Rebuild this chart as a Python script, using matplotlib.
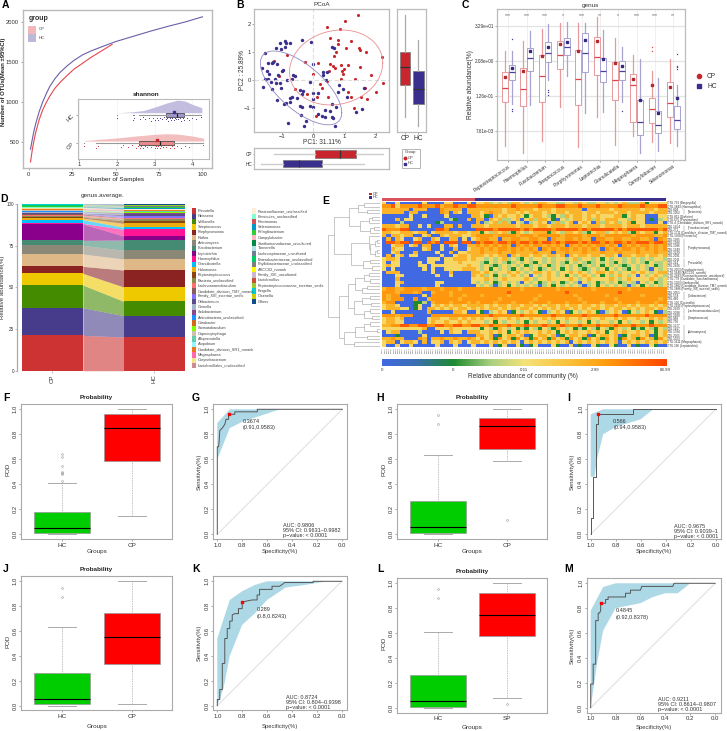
import numpy as np
import matplotlib
matplotlib.use('Agg')
import matplotlib.pyplot as plt
from matplotlib.patches import Rectangle
from matplotlib.colors import LinearSegmentedColormap
from matplotlib.lines import Line2D

plt.rcParams['font.family'] = ['Liberation Sans', 'DejaVu Sans']
W, H = 727, 731
fig = plt.figure(figsize=(W/100, H/100), dpi=100, facecolor='white')
RED, NAVY = '#C9252D', '#3A2F8C'
GR = '#AAAAAA'

# ---------- A ----------
a_hc_x = [1, 2, 3, 4, 6, 8, 10, 12, 15, 18, 22, 26, 31, 36, 42, 50, 60, 70, 80, 90, 100]
a_hc_y = [410, 530, 640, 730, 880, 1000, 1100, 1190, 1290, 1370, 1450, 1520, 1590, 1640, 1690, 1755, 1820, 1885, 1945, 2000, 2065]
a_cp_x = [1, 2, 3, 4, 6, 8, 10, 12, 15, 18, 22, 26, 31, 36, 42, 48]
a_cp_y = [250, 400, 520, 620, 780, 900, 990, 1070, 1170, 1245, 1330, 1410, 1485, 1560, 1640, 1720]
sh_hc_dx = [2.0, 2.4, 2.7, 3.0, 3.3, 3.6, 3.8, 4.0, 4.25]
sh_hc_dh = [.0, .03, .08, .2, .34, .45, .42, .3, .18]
sh_cp_dx = [1.15, 1.6, 2.0, 2.5, 3.0, 3.3, 3.6, 4.0, 4.3]
sh_cp_dh = [.02, .07, .11, .18, .24, .26, .25, .18, .10]
sh_hc_box = dict(whislo=2.59, q1=3.29, med=3.59, q3=3.79, whishi=4.23, fliers=[2.0, 2.43, 2.46])
sh_cp_box = dict(whislo=1.45, q1=2.59, med=3.13, q3=3.5, whishi=4.28, fliers=[1.13])
sh_hc_mean, sh_cp_mean = 3.5, 3.07
sh_hc_pts = [2.0, 2.43, 2.46, 2.6, 2.7, 2.75, 2.85, 2.9, 2.95, 3.0, 3.05, 3.1, 3.15, 3.2, 3.25, 3.3, 3.33, 3.36, 3.4, 3.43, 3.46, 3.5, 3.53, 3.56, 3.6, 3.63, 3.66, 3.7, 3.74, 3.78, 3.85, 3.9, 4.0, 4.1, 4.23]
sh_cp_pts = [1.13, 1.45, 1.5, 2.1, 2.15, 2.3, 2.4, 2.5, 2.55, 2.6, 2.65, 2.7, 2.75, 2.8, 2.85, 2.9, 2.95, 3.0, 3.03, 3.06, 3.1, 3.14, 3.18, 3.22, 3.26, 3.3, 3.35, 3.4, 3.45, 3.5, 3.6, 3.7, 3.8, 3.9, 4.28]
sh_off = [.03, -.06, .01, -.03, .06, -.01, .04, -.07, .02, -.04]

# ---------- B ----------
cp_pc1 = [1.44,1.03,.45,.86,.53,.80,1.20,1.06,1.46,1.48,1.70,2.19,.78,.72,.65,-.27,.16,.52,.64,.88,1.10,1.49,.98,.91,.94,.51,1.84,0,2.23,.89,1.34,.22,.27,1.65,1.12,1.99,1.54,1.72,1.31,.09,-1.09,-1.24,-.85,-.59,-.21,1.22,.11,.48,.43,.70]
cp_pc2 = [2.33,2.13,1.89,1.83,1.52,1.43,1.40,1.17,1.14,1.08,1.00,.83,1.29,1.00,.88,.65,.61,.58,.51,.55,.55,.49,.39,.32,.23,.35,.18,.23,-.10,.06,.04,-.13,-.29,-.26,-.43,-.42,-.58,-.65,-.98,-1.29,.17,.70,.90,-.32,-.50,-.58,-.58,-.58,-.02,.45]
hc_pc1 = [-1.54,-1.06,-.89,-.88,-.74,-.89,-1.04,-1.19,-.37,-.07,.59,.67,-1.28,-1.44,-1.65,-1.49,-1.40,-1.31,-1.17,-.96,-.99,-1.54,-1.44,-1.22,-1.12,-.64,-.59,-1.36,-1.20,-1.06,-1.03,-1.60,-1.33,-.85,-.67,-.11,.31,.43,0,-.32,-.43,-.37,-.69,-.53,-.74,-1.17,-.93,-.88,-.74,-.43,-.37,-.11,-.02,0,-.02,.14,.37,.59,.53,.16,.27,.39,.59,.62,-.22,-.39,-.80,-.29,.71,.74,.82,.96,.80,1.09,1.63,1.38,1.56,.32,.41]
hc_pc2 = [.99,1.32,1.39,1.32,1.35,1.20,1.12,1.15,1.46,1.36,1.20,1.14,.67,.61,.43,.35,.21,.61,.58,.37,.35,.05,.04,.05,.19,.19,.15,-.07,-.08,-.11,-.29,-.23,-.32,.01,.04,-.05,.31,.31,.58,-.37,-.35,-.49,-.58,-.64,-.62,-.70,-.85,-.82,-.76,-.92,-.94,-.92,-.96,-.67,-.46,-.46,-1.06,-.85,-1.10,-1.20,-1.27,-1.32,-1.30,-1.36,-1.44,-1.24,-1.54,-1.63,-1.63,-.94,-.17,-.32,-.40,-.58,-.26,-1.12,-1.01,.19,.01]
ell_cp = dict(cx=.73, cy=.46, ax=1.49, ay=1.34, corr=.12)
ell_hc = dict(cx=-.39, cy=-.27, ax=1.30, ay=1.32, corr=-.67)
b_right = [dict(whislo=-1.30, q1=-.155, med=.49, q3=1.0, whishi=2.33, fliers=[]),
           dict(whislo=-1.65, q1=-.83, med=-.31, q3=.33, whishi=1.44, fliers=[])]
b_bottom = [dict(whislo=-1.27, q1=.05, med=.87, q3=1.36, whishi=2.23, fliers=[]),
            dict(whislo=-1.67, q1=-.98, med=-.45, q3=.29, whishi=1.63, fliers=[])]

# ---------- C (values are log10 of % abundance) ----------
genera = ['Peptostreptococcus','Haemophilus','Fusobacterium','Streptococcus','Porphyromonas','Leptotrichia','Granulicatella','Megasphaera','Campylobacter','Selenomonas']
c_stars = ['***','***','***','*','***','**','*','***','***','**']
c_cp_hi  = [.66,1.0,1.40,1.61,1.61,1.84,1.09,.52,-.03,.37]
c_cp_q3  = [-.07,.07,.51,1.01,.68,1.13,.27,-.14,-.96,-.41]
c_cp_med = [-.63,-.65,-.20,.53,-.32,.45,-.35,-.53,-1.34,-1.13]
c_cp_q1  = [-1.12,-1.24,-1.11,.03,-1.21,-.19,-1.03,-1.81,-1.83,-1.61]
c_cp_lo  = [-2.62,-2.85,-2.45,-1.27,-2.64,-1.63,-2.57,-2.28,-2.48,-2.53]
c_cp_mean= [-.23,-.04,.49,.88,.64,1.01,.24,-.30,-.51,-.60]
c_cp_out = [[],[],[],[],[],[],[],[],[.80,.64],[]]
c_hc_hi  = [.64,1.35,1.59,1.64,1.61,1.36,.79,.37,-.28,-.51]
c_hc_q3  = [.17,.75,.97,1.09,1.27,.40,.31,-1.05,-1.41,-1.24]
c_hc_med = [-.07,.40,.60,.79,.59,-.03,-.03,-1.80,-1.89,-1.72]
c_hc_q1  = [-.36,-.04,.29,.51,-.07,-.43,-.35,-2.23,-2.17,-2.04]
c_hc_lo  = [-1.19,-1.21,-.34,-.22,-1.49,-1.46,-1.11,-2.85,-2.79,-2.62]
c_hc_mean= [.08,.64,.80,.97,1.03,.37,.15,-1.04,-1.47,-.96]
c_hc_out = [[1.06,-1.36,-1.43],[],[-.68,-.77,-.88],[],[],[],[-1.41],[],[],[.56,.15,.09,.03]]
c_ticks = [-2.1186, -.9, .318, 1.517]
c_ticklabels = ['7.61e-03','1.26e-01','2.08e+00','3.29e+01']

# ---------- D ----------
d_names = ['Prevotella','Neisseria','Veillonella','Streptococcus','Porphyromonas','Rothia','Actinomyces','Fusobacterium','Leptotrichia','Haemophilus','Granulicatella','Halomonas','Peptostreptococcus','Bacteria_unclassified','Lachnoanaerobaculum','Candidate_division_TM7_norank','Family_XIII_incertae_sedis','Oribacterium','Gemella','Solobacterium','Actinobacteria_unclassified','Citrobacter','Stomatobaculum','Capnocytophaga','Alloprevotella','Atopobium','Candidate_division_SR1_norank','Megasphaera','Corynebacterium','Lactobacillales_unclassified',
 'Pasteurellaceae_unclassified','Firmicutes_unclassified','Parvimonas','Selenomonas','Pelagibacterium','Campylobacter','Xanthomonadaceae_uncultured','Tannerella','Lachnospiraceae_uncultured','Enterobacteriaceae_unclassified','Phyllobacteriaceae_unclassified','ASCC02_norank','Family_XIII_uncultured','Lactobacillus','Peptostreptococcaceae_incertae_sedis','Kingella','Olsenella','Others']
d_cp = [21.2,16.6,13.6,7.0,4.2,7.4,5.2,3.0,9.8,.4,2.2,.9,.6,.5,.7,.8,.2,.2,.8,.2,.1,.1,.3,.4,.2,.1,.1,.4,.3,.2,.2,.2,.2,.2,.1,.2,.1,.1,.1,.1,.1,.1,.1,.1,.1,.1,.1,.2]
d_hc = [20.2,12.8,8.6,8.6,10.2,6.6,5.2,6.2,2.4,4.0,1.2,2.4,1.5,1.0,.6,.3,1.1,1.0,.2,.5,.2,.1,.2,.3,.3,.2,.3,.2,.1,.2,.2,.1,.2,.7,.1,.2,.1,.2,.1,.1,.1,.1,.1,.1,.1,.1,.1,.6]
d_cols = ['#CD3333','#473C8B','#458B00','#EEC900','#8B2323','#DEB887','#8B8878','#458B74','#8B008B','#FF1493','#00BFFF','#EEAD0E','#8B4513','#8B8B4D','#FF7070','#8B5A5A','#836FFF','#5B4B8A','#A2B5CD','#8B4789','#1E90FF','#D2691E','#7FFF00','#CDC0B0','#66CDAA','#98F5FF','#EE7621','#FF69B4','#F0E68C','#CD8C95',
 '#FFEFD5','#7FFFD4','#CD5555','#0099CC','#32CD32','#FFB6C1','#008B45','#B0E0E6','#708090','#00CD66','#7F7F7F','#FFFF00','#CDB5CD','#CD4F39','#9ACD32','#00CED1','#CDCD00','#104E8B']

# ---------- E (levels 0 blue .. 6 red-orange, CP part | HC part) ----------
e_rows = [
"300300000300003300030|3342323244323244332233243223323234222413333",
"556355556555645565566|5555555565555565556655565556555565555655566",
"444444044400054444044|4444443445444344434444440444443444444344344",
"444440440000054043044|4345443443434443434434443443444344344443444",
"000000300300003000004|4310434334313443213243443434333441343300033",
"000403300000000210040|4404342234034244310323443424344433243301023",
"000020000000120000000|4023424203202343024234034304243423413300030",
"444344003030004404004|4434444443444344344434443444344443444344444",
"655566000000665000000|6666566666565666656666656566666565666666656",
"443344434403444434434|4132434214323444143244342134423434214344134",
"404434400340043444334|5555455554555455555455554555455555545555445",
"040430034004300440303|4554404455445544054455454405544554455445054",
"066566066065606660660|6566566565665656656566656566565665656665665",
"003440340440030430044|5454545405454554545405454545545405454554545",
"004330000340030040034|4545455454545405454554545454054545545454545",
"003400040000300403344|4544454454444544404454445444544454445444544",
"040340330000030034434|4434344043443443443404344344344304434434434",
"344300000033303344434|3323234232132332323323423323132332323232332",
"303300003033003334333|3213232123232132323213232123232132323213223",
"343300003303333333343|3232123232312323123232312323132321232323123",
"303000000303003333444|3231323213232312323132321232313232132320323",
"044400000003000400004|4343233434323443432334343234434323343432344",
"000330000000300300004|3423132343230323432313234323132343230323432",
"000400000000000000003|3343234333343233433334323433334323433334323",
"000340000000330000003|2323123232032312323123203231232312320323123",
"000300000000300000000|3232023132323202313232320231323232023132323",
"455445555455545554555|5555555555455555554555555545555555455555555",
"555455545004555455555|5555555655555555555565555555555565555555555",
"545500000305555455455|5455555455555545555555455555545555555455555",
"545550050045555554555|5555545555555455555555545555555455555555545",
"455000011204555455545|4555455545554555455545554555455545554555455",
"344300013003434344344|4434344344344343443434434434344344343443434",
"344433013044343434434|3434434343443434343443434344343443434344343",
"003000000040000044300|3102343013234310234301323431023430132343102",
"555455500005555555555|5556555555655555565555556555555655555565555",
"344340000034433443434|3433433434334334343343343433433434334334343",
"344330000034334334343|3323132332313233231323323132332313233231323",
"445566556655665566556|6556555655565556555655565556555655565556555",
"333333333400333433333|3132143231213213214323121321321432312132132",
"034400002000030433044|4334343134343343431343433434313434334343134",
"000100000300000000000|4434013443401344340134434013443401344340134",
"445440005404454454454|3534153415341534153415341534153415341534153",
"344034430403340434034|4343434343034343434340343434343403434343434",
"300300300000300030003|0003013003101300031003010031003100301003100",
]
e_row_labels = ['OTU.791 (Bergeyella)','OTU.1843 (Haemophilus)','OTU.804','OTU.1052','OTU.851 (Dialister)','OTU.675 (Parvimonas)','OTU.4 (Candidate_division_SR1_norank)','OTU.1454','OTU.271','OTU.1711 (Candidate_division_TM7_norank)','OTU.1368 (Prevotella)','OTU.1385','OTU.1380','OTU.1386','OTU.1349','OTU.2229','OTU.2031','OTU.2011','OTU.214','OTU.2426','OTU.2063 (Fusobacterium)','OTU.1640 (ASCC02_norank)','OTU.2483 (Ruminococcaceae_uncultured)','OTU.779 (Candidate_Saccharimonas)','OTU.1023 (Gardnerella)','OTU.1882 (Candidate_division_TM7_norank)','OTU.1886 (Family_XIII_incertae_sedis)','OTU.2051','OTU.558','OTU.460','OTU.120 (Catonella)','OTU.2191 (Peptostreptococcus)','OTU.2429','OTU.2038','OTU.2289','OTU.868','OTU.730','OTU.1277','OTU.1417','OTU.1784','OTU.2065','OTU.1003','OTU.1611 (Megasphaera)','OTU.196 (Leptotrichia)']
e_groups = [(2,3,'(Neisseria)'),(7,8,'(Fusobacterium)'),(11,16,'(Porphyromonas)'),(17,19,'(Prevotella)'),(27,29,'(Oribacterium)'),(32,33,'(Lachnoanaerobaculum)'),(34,35,'(Streptococcus)'),(37,41,'(Actinomyces)')]
e_cbar_labels = ['0','0','0.11','2.99','83.99']
e_tree = (1.0,
  (.89,
    (.60,(.42,(.30,0,1),(.25,2,3)),(.38,(.22,(.15,4,5),6),(.2,(.12,7,8),9))),
    (.55,(.22,10,(.2,(.1,(.05,11,12),13),(.1,(.05,14,15),16))),(.32,(.2,17,18),(.15,19,20)))),
  (.78,
    (.62,(.48,(.3,(.22,21,22),(.2,23,24)),(.35,(.25,25,26),27)),(.5,(.35,(.2,28,29),(.18,30,31)),(.3,(.2,32,33),(.15,34,35)))),
    (.7,(.48,(.3,(.2,36,37),(.05,38,39)),(.25,40,41)),(.5,42,43))))

# ---------- F-M ----------
f_box = [dict(whislo=0,q1=.01,med=.05,q3=.175,whishi=.41,fliers=[.43,.48,.49,.50,.55,.62,.645]),
         dict(whislo=.15,q1=.59,med=.85,q3=.96,whishi=1.0,fliers=[])]
h_box = [dict(whislo=0,q1=.01,med=.055,q3=.265,whishi=.635,fliers=[.885,.955]),
         dict(whislo=.59,q1=.685,med=.865,q3=.93,whishi=1.0,fliers=[.115])]
j_box = [dict(whislo=0,q1=.01,med=.055,q3=.26,whishi=.63,fliers=[.875,.95]),
         dict(whislo=.01,q1=.335,med=.55,q3=.745,whishi=1.0,fliers=[])]
l_box = [dict(whislo=0,q1=.005,med=.055,q3=.26,whishi=.605,fliers=[.88,.955]),
         dict(whislo=.08,q1=.58,med=.745,q3=.92,whishi=1.0,fliers=[.03])]

g_spec = [1,1,.99,.985,.98,.96,.94,.93,.91,.91,.86,.86,.68,.68,0]
g_sens = [0,.70,.70,.75,.83,.85,.88,.92,.92,.96,.96,.98,.98,1,1]
g_up = ([1,.9,.5,0],[.89,1,1,1])
g_lo = ([1,.9,.8,.65,.5,0],[.6,.85,.9,.95,1,1])
i_spec = [1,1,.985,.985,.96,.96,.94,.94,.66,.66,0]
i_sens = [0,.13,.13,.46,.46,.88,.88,.96,.96,1,1]
i_up = ([1,.9,.5,0],[.96,1,1,1])
i_lo = ([1,.97,.95,.9,.8,.6,.5,0],[.46,.46,.6,.8,.86,.92,1,1])
k_spec = [1,1,.98,.98,.96,.96,.94,.94,.92,.92,.9,.9,.88,.88,.86,.83,.83,.8,.8,.77,.72,.68,.68,.66,.66,.56,.56,.5,.47,.46,.23,.23,0]
k_sens = [0,.05,.05,.13,.13,.34,.34,.54,.54,.62,.62,.68,.68,.73,.74,.74,.78,.78,.83,.84,.85,.85,.89,.89,.935,.935,.96,.96,.98,.99,.99,1,1]
k_up = ([1,.9,.8,.7,.6,0],[.54,.85,.92,.97,1,1])
k_lo = ([1,.95,.9,.8,.7,.6,.45,.3,.12,0],[0,.14,.4,.65,.74,.85,.95,.97,1,1])
m_spec = [1,1,.98,.98,.96,.96,.94,.94,.93,.92,.92,.88,.88,.86,.86,.72,.72,.68,.68,.6,.59,.34,.33,0]
m_sens = [0,.19,.19,.35,.35,.70,.70,.76,.76,.78,.84,.84,.87,.87,.89,.89,.92,.92,.945,.945,.975,.975,1,1]
m_up = ([1,.9,.8,0],[.78,.97,1,1])
m_lo = ([1,.95,.9,.8,.7,.6,.5,.4,.3,.2,0],[0,.35,.62,.8,.82,.84,.89,.92,.92,1,1])


def axpx(l, t, r, b, **k):
    return fig.add_axes([l/W, 1-b/H, (r-l)/W, (b-t)/H], **k)

def T(x, y, s, size=4.5, ha='center', va='center', **k):
    return fig.text(x/W, 1-y/H, s, fontsize=size, ha=ha, va=va, **k)

def R(x0, y0, x1, y1, **k):
    fig.add_artist(Rectangle((x0/W, 1-y1/H), (x1-x0)/W, (y1-y0)/H, transform=fig.transFigure, **k))

def frame(ax, c=GR, lw=.8):
    for s in ax.spines.values():
        s.set_color(c); s.set_linewidth(lw)
    ax.tick_params(length=1.6, width=.4, color='#666666', labelsize=4.2, pad=1, labelcolor='#333333')

def color_box(art, face, edge, med, wcol, wlw=.6, mlw=.9):
    for b in art['boxes']:
        b.set_facecolor(face); b.set_edgecolor(edge); b.set_linewidth(.5)
    for m in art['medians']:
        m.set_color(med); m.set_linewidth(mlw)
    for w in art['whiskers'] + art['caps']:
        w.set_color(wcol); w.set_linewidth(wlw)

for l, x, y in [('A',5,5),('B',240,5),('C',465,5),('D',4,199),('E',326,201),('F',6,398),('G',196,398),('H',380,398),('I',569,398),('J',6,569),('K',196,569),('L',380,569),('M',569,569)]:
    T(x, y, l, size=7.5, fontweight='bold')

# A
ax = axpx(22.7, 10, 212, 168)
frame(ax, '#BBBBBB', 1.0)
ax.plot(a_hc_x, a_hc_y, color='#6A5FA8', lw=.8)
ax.plot(a_cp_x, a_cp_y, color='#E5474D', lw=.8)
ax.set_xlim(-3.5, 105.5); ax.set_ylim(175, 2150)
ax.set_xticks([0, 25, 50, 75, 100]); ax.set_yticks([500, 1000, 1500, 2000])
T(116, 179, 'Number of Samples', 4.6, color='#222222')
T(4, 82, 'Number of OTUs(Mean ±95%CI)', 4.2, rotation=90, fontweight='bold', color='#222222')
T(39, 19, 'group', 5, fontweight='bold', color='#333333', ha='center')
R(28, 25.5, 36, 33.5, color='#F2B7B7', lw=0)
R(28, 34, 36, 42, color='#BDB7DC', lw=0)
T(39, 29, 'CP', 3.2, ha='left', color='#444444'); T(39, 38, 'HC', 3.2, ha='left', color='#444444')

ins = axpx(78, 99, 209, 159, zorder=3)
frame(ins, '#BBBBBB', .8)
ins.set_xlim(.97, 4.44); ins.set_ylim(.43, 2.57)
ins.xaxis.grid(True, color='#EEEEEE', lw=.4); ins.set_axisbelow(True)
ins.fill_between(sh_hc_dx, 2.08, 2.08+np.array(sh_hc_dh), color='#BDB7DC', lw=0, alpha=.9)
ins.fill_between(sh_cp_dx, 1.07, 1.07+np.array(sh_cp_dh), color='#F2B7B7', lw=0, alpha=.9)
for st, p, fc, c, mean, pts, off in [(sh_cp_box,1,'#E98A8A',RED,sh_cp_mean,sh_cp_pts,-.12),(sh_hc_box,2,'#9F97CC',NAVY,sh_hc_mean,sh_hc_pts,-.13)]:
    art = ins.bxp([st], positions=[p], widths=[.14], orientation='horizontal', patch_artist=True, manage_ticks=False,
                  flierprops=dict(marker='s', ms=.7, mfc='#777777', mec='none'))
    color_box(art, fc, '#333333', '#222222', '#999999', wlw=.8)
    for cp in art['caps']:
        cp.set_visible(False)
    ins.plot([mean], [p+.1], 's', ms=1.6, color=c)
    ins.scatter(pts, [p+off+sh_off[i % 10] for i in range(len(pts))], s=.6, color=c, lw=0)
ins.set_yticks([1, 2]); ins.set_yticklabels(['CP', 'HC'], rotation=45, fontsize=4.6)
ins.set_xticks([1, 2, 3, 4])
ins.tick_params(labelsize=4.2, pad=.8)
T(146, 95, 'shannon', 4.6, fontweight='bold', color='#222222')

# B
ax = axpx(254.3, 9.3, 389.3, 131.7)
frame(ax, '#BBBBBB', .9)
ax.axhline(0, color='#DDDDDD', lw=.8, ls=(0, (4, 2))); ax.axvline(0, color='#DDDDDD', lw=.8, ls=(0, (4, 2)))
t = np.linspace(0, 2*np.pi, 200)
for e, c in [(ell_cp, '#E88E92'), (ell_hc, '#8F88C2')]:
    phi = np.arccos(e['corr'])
    ax.plot(e['cx']+e['ax']*np.cos(t), e['cy']+e['ay']*np.cos(t+phi), color=c, lw=.6)
ax.scatter(cp_pc1, cp_pc2, s=5, color=RED, lw=0)
ax.scatter(hc_pc1, hc_pc2, s=6, color=NAVY, lw=0)
ax.set_xlim(-1.885, 2.43); ax.set_ylim(-1.836, 2.54)
ax.set_xticks([-1, 0, 1, 2]); ax.set_xticklabels(['\u22121', '0', '1', '2']); ax.set_yticks([-1, 0, 1, 2]); ax.set_yticklabels(['\u22121', '0', '1', '2'])
ax.tick_params(axis='x', pad=.3, length=1.2)
T(322, 4, 'PCoA', 4.6, color='#333333')
T(322, 142.5, 'PC1: 31.11%', 4.7, color='#333333')
T(243, 70, 'PC2 : 25.89%', 4.7, rotation=90, color='#333333')
ax = axpx(397.3, 9.3, 426, 131.7)
frame(ax, '#BBBBBB', .9)
art = ax.bxp(b_right, positions=[1, 2], widths=.76, patch_artist=True, showcaps=False, manage_ticks=False)
color_box(art, RED, '#777777', '#333333', '#AAAAAA', wlw=.9)
art['boxes'][1].set_facecolor(NAVY)
ax.set_xlim(.45, 2.55); ax.set_ylim(-1.836, 2.54)
ax.set_xticks([1, 2]); ax.set_xticklabels(['CP', 'HC'], fontsize=4.8); ax.set_yticks([])
ax = axpx(254.3, 148.3, 389.3, 169.3)
frame(ax, '#BBBBBB', .9)
art = ax.bxp(b_bottom, positions=[2, 1], widths=.76, orientation='horizontal', patch_artist=True, showcaps=False, manage_ticks=False)
color_box(art, RED, '#777777', '#333333', '#CCCCCC', wlw=1.0)
art['boxes'][1].set_facecolor(NAVY)
ax.set_xlim(-1.885, 2.43); ax.set_ylim(.4, 2.6)
ax.set_xticks([]); ax.set_yticks([1, 2]); ax.set_yticklabels(['HC', 'CP'], fontsize=3.4)
ax.tick_params(length=1, pad=.6)
R(401.7, 149, 420, 168.3, fc='white', ec='#AAAAAA', lw=.6)
T(410.8, 152.5, 'Group', 3.0, color='#333333')
fig.add_artist(Line2D([405/W], [1-158/H], marker='o', ms=1.8, color=RED, lw=0))
fig.add_artist(Line2D([405/W], [1-163.5/H], marker='s', ms=1.8, color=NAVY, lw=0))
T(408, 158, 'CP', 3.0, ha='left', color='#333333'); T(408, 163.5, 'HC', 3.0, ha='left', color='#333333')

# C
ax = axpx(497.3, 9.3, 685, 160)
frame(ax, '#BBBBBB', .9)
ax.set_yscale('log')
ax.yaxis.grid(True, which='major', color='#E3E3E3', lw=.9); ax.xaxis.grid(True, color='#F0F0F0', lw=.7); ax.set_axisbelow(True)
def mkstats(hi, q3, med, q1, lo, out):
    return [dict(whislo=10**lo[i], q1=10**q1[i], med=10**med[i], q3=10**q3[i], whishi=10**hi[i], fliers=[10**v for v in out[i]]) for i in range(len(hi))]
pos = np.arange(10)
for st, off, ec, mc, mean in [(mkstats(c_cp_hi,c_cp_q3,c_cp_med,c_cp_q1,c_cp_lo,c_cp_out), -.18, '#E79A9C', '#DD4449', c_cp_mean),
                              (mkstats(c_hc_hi,c_hc_q3,c_hc_med,c_hc_q1,c_hc_lo,c_hc_out), .18, '#A9A3D2', '#4A3FA0', c_hc_mean)]:
    art = ax.bxp(st, positions=pos+off, widths=.32, patch_artist=True, showcaps=False, manage_ticks=False,
                 flierprops=dict(marker='s', ms=.9, mfc=mc, mec='none'))
    color_box(art, 'white', ec, mc, ec, wlw=.9, mlw=.9)
    for b in art['boxes']:
        b.set_linewidth(.7)
    ax.plot(pos+off, 10.0**np.array(mean), 's', ms=1.5, color='#B02A30' if off < 0 else '#332A80', lw=0)
for i, s in enumerate(c_stars):
    ax.text(i, 10**1.87, s, fontsize=3.8, ha='center', va='center', color='#666666')
ax.set_xlim(-.6, 9.64); ax.set_ylim(10**-3.103, 10**2.09)
ax.set_yticks([10**v for v in c_ticks]); ax.set_yticklabels(c_ticklabels, fontsize=3.3)
ax.minorticks_off()
ax.set_xticks(pos); ax.set_xticklabels(genera, rotation=35, ha='right', rotation_mode='anchor', fontsize=3.5)
T(470, 85, 'Relative abundance(%)', 4.8, rotation=90, color='#333333')
T(590, 5, 'genus', 4.6, color='#333333')
fig.add_artist(Line2D([699/W], [1-76/H], marker='o', ms=3, color=RED, lw=0))
fig.add_artist(Line2D([699/W], [1-86/H], marker='s', ms=3, color=NAVY, lw=0))
T(707, 76, 'CP', 4.8, ha='left', color='#333333'); T(707, 86, 'HC', 4.8, ha='left', color='#333333')

# D
ax = axpx(17, 204, 186, 370.7)
vals = np.array([d_cp, d_hc])
bot = np.zeros(2)
for i, c in enumerate(d_cols):
    ax.bar([0, 1], vals[:, i], bottom=bot, width=.6, color=c, lw=0)
    ax.fill_between([.3, .7], bot+vals[:, i], bot, color=c, alpha=.6, lw=0)
    bot = bot + vals[:, i]
ax.set_xlim(-.345, 1.31); ax.set_ylim(0, 100)
for s in ['top', 'right', 'bottom']:
    ax.spines[s].set_visible(False)
ax.spines['left'].set_color('#AAAAAA'); ax.spines['left'].set_linewidth(.9)
ax.set_yticks([0, 25, 50, 75, 100]); ax.set_xticks([0, 1]); ax.set_xticklabels(['CP', 'HC'], rotation=90, fontsize=4.4)
ax.tick_params(length=1.2, width=.4, labelsize=3.3, pad=.8, color='#888888', labelcolor='#333333')
ax.tick_params(axis='x', labelsize=4.4, pad=1.5)
T(3, 287, 'Relative abundance(%)', 4.4, rotation=90, color='#333333')
T(103, 196, 'genus.average.', 4.6, color='#333333')
for i, (n, c) in enumerate(zip(d_names, d_cols)):
    col, row = (0, i) if i < 30 else (1, i-30)
    x0 = 191.7 + col*60; y = 211 + row*5.33
    R(x0, y-2.66, x0+4.3, y+2.66, color=c, lw=0)
    T(x0+6.3, y, n, 2.8, ha='left', color='#444444')

# E
levels = np.array([[int(ch) for ch in r.replace('|', '')] for r in e_rows])
ncp = e_rows[0].index('|'); ncol = levels.shape[1]; nrow = levels.shape[0]
level_pos = np.array([.0, .25, .40, .55, .70, .80, .95])
cmap = LinearSegmentedColormap.from_list('e', [(0,'#4169E1'),(.12,'#3A6FB0'),(.25,'#1E8B2E'),(.38,'#A8CF80'),(.5,'#F5E27A'),(.65,'#F9C23C'),(.78,'#FFA010'),(1,'#FF4500')])
ax = axpx(381.7, 201.7, 665.7, 347.3)
ax.imshow(level_pos[levels], cmap=cmap, vmin=0, vmax=1, aspect='auto', interpolation='nearest')
ax.set_xticks([]); ax.set_yticks([])
for s in ax.spines.values():
    s.set_visible(False)
for i, lab in enumerate(e_row_labels):
    ax.text(ncol-.3, i, lab, fontsize=2.2, va='center', ha='left', color='#333333', clip_on=False)
for a, b, n in e_groups:
    ax.plot([ncol+3.7, ncol+3.7], [a-.3, b+.3], color='#777777', lw=.3, clip_on=False)
    ax.text(ncol+4.6, (a+b)/2, n, fontsize=2.2, va='center', ha='left', color='#333333', clip_on=False)
ax.set_xlim(-.5, ncol-.5); ax.set_ylim(nrow-.5, -.5)
ann = axpx(381.7, 198.3, 665.7, 201)
ann.barh([0], [ncp], left=[0], height=1, color='#D9545A', lw=0)
ann.barh([0], [ncol-ncp], left=[ncp], height=1, color=NAVY, lw=0)
ann.set_xlim(0, ncol); ann.set_ylim(-.5, .5); ann.axis('off')
R(369, 192.5, 372, 195, color=RED, lw=0); R(369, 196, 372, 198.5, color=NAVY, lw=0)
T(373, 193.8, 'CP', 2.8, ha='left', color='#333333'); T(373, 197.3, 'HC', 2.8, ha='left', color='#333333')
# sample labels under the heatmap
lab = axpx(381.7, 347.5, 665.7, 356)
lab.set_xlim(0, 128); lab.set_ylim(0, 1); lab.axis('off')
for i in range(128):
    lab.text(i+.5, .98, 'S%03d' % (i+1), fontsize=1.7, rotation=90, ha='center', va='top', color='#555555')
# dendrogram
den = axpx(327, 201.7, 380, 347.3)
den.set_xlim(1.02, 0); den.set_ylim(nrow-.5, -.5); den.axis('off')
def draw(node):
    if not isinstance(node, tuple):
        return 0.0, float(node)
    h, a, b = node
    ha_, ya = draw(a); hb_, yb = draw(b)
    den.plot([ha_, h, h, hb_], [ya, ya, yb, yb], color='#AAAAAA', lw=.45, solid_joinstyle='miter')
    return h, (ya+yb)/2
draw(e_tree)
# colour bar
cb = axpx(381.7, 359, 665.7, 365.7)
cb.imshow(np.linspace(0, 1, 400)[None, :], cmap=cmap, aspect='auto', extent=[0, 1, 0, 1], vmin=0, vmax=1)
cb.set_yticks([]); cb.set_xticks([0, .25, .5, .75, 1]); cb.set_xticklabels(e_cbar_labels, fontsize=3.2)
cb.tick_params(length=0, pad=1.8, labelcolor='#333333')
for s in cb.spines.values():
    s.set_visible(False)
T(523, 376.5, 'Relative abundance of community (%)', 4.7, color='#333333')

# R-style panels
def rbox(l, t, r, b, stats, names, y0px, y1px, lab_off):
    ax = axpx(l, t, r, b)
    frame(ax, GR, .8)
    per = y0px - y1px
    ax.set_ylim(-(b-y0px)/per, 1+(y1px-t)/per)
    art = ax.bxp(stats, positions=[1, 2], widths=.8, patch_artist=True, manage_ticks=False,
                 capwidths=.4, flierprops=dict(marker='o', ms=1.3, mfc='none', mec='#999999', mew=.4),
                 whiskerprops=dict(linestyle=(0, (1, 1))))
    color_box(art, '#00CD00', '#999999', 'black', '#AAAAAA', wlw=.6, mlw=.8)
    art['boxes'][1].set_facecolor('#FF0000')
    for c in art['caps']:
        c.set_linewidth(.7)
    ax.set_xlim(.416, 2.578)
    ax.set_xticks([1, 2]); ax.set_xticklabels(names, fontsize=4.6)
    ax.set_yticks([0, .2, .4, .6, .8, 1]); ax.set_yticklabels(['0.0','0.2','0.4','0.6','0.8','1.0'], rotation=90, va='center', fontsize=4.2)
    T((l+r)/2, t-6.4, 'Probability', 4.6, fontweight='bold', color='#222222')
    T((l+r)/2, b+lab_off, 'Groups', 4.6, color='#333333')
    T(l-13.5, (t+b)/2-2, 'POD', 4.4, rotation=90, color='#333333')

def roc(l, t, r, b, spec, sens, up, lo, best, txt, txtpos, stats, statspos, y0px, y1px, lab_off):
    ax = axpx(l, t, r, b)
    frame(ax, GR, .8)
    per = y0px - y1px
    ax.set_ylim(-(b-y0px)/per, 1+(y1px-t)/per)
    ax.set_xlim(1+4/per, -(r-l-4-per)/per)
    ax.plot([1, 0], [0, 1], color='#DDDDDD', lw=.7)
    ax.fill(list(up[0])+list(lo[0])[::-1], list(up[1])+list(lo[1])[::-1], color='#ADD8E6', lw=0)
    ax.plot(spec, sens, color='#555555', lw=.7)
    ax.plot([best[0]], [best[1]], 's', ms=1.8, color='#FF0000')
    ax.text(txtpos[0], txtpos[1], txt[0], fontsize=4.0, ha='left', va='center', color='#333333')
    ax.text(txtpos[0], txtpos[1]-.053, txt[1], fontsize=4.0, ha='left', va='center', color='#333333')
    for i, s in enumerate(stats):
        ax.text(statspos[0], statspos[1]-i*.039, s, fontsize=4.0, ha='left', va='center', color='#333333', clip_on=False)
    ax.set_xticks([1, .8, .6, .4, .2, 0]); ax.set_xticklabels(['1.0','0.8','0.6','0.4','0.2','0.0'], fontsize=4.3)
    ax.set_yticks([0, .2, .4, .6, .8, 1]); ax.set_yticklabels(['0.0','0.2','0.4','0.6','0.8','1.0'], rotation=90, va='center', fontsize=4.2)
    T((l+r)/2, b+lab_off, 'Specificity(%)', 4.2, color='#333333')
    T(l-14.5, (t+b)/2, 'Sensitivity(%)', 4.2, rotation=90, color='#333333')

rbox(21.3, 404.3, 172, 539, f_box, ['HC','CP'], 534.3, 409.3, 13)
rbox(397.3, 404.3, 547.3, 539, h_box, ['HC','CP'], 534.3, 409.3, 13)
rbox(21.3, 576.3, 172, 710.3, j_box, ['HC','CP'], 705.7, 581.3, 16)
rbox(397.3, 578.3, 547.3, 712.7, l_box, ['HC','SP'], 707.7, 583.3, 15)
roc(213.3, 404.3, 347.3, 539, g_spec, g_sens, g_up, g_lo, (.91,.96), ('0.3674','(0.91,0.9583)'), (.795,.905),
    ['AUC: 0.9806','95% CI: 0.9631\u20130.9982','p\u2212value: < 0.0001'], (.475,.068), 534.3, 409.3, 13)
roc(586.7, 404.3, 720.7, 539, i_spec, i_sens, i_up, i_lo, (.94,.96), ('0.566','(0.94,0.9583)'), (.82,.905),
    ['AUC: 0.9675','95% CI: 0.9039\u20131','p\u2212value: < 0.0001'], (.336,.062), 534.3, 409.3, 13)
roc(213.3, 576.3, 347.3, 710.3, k_spec, k_sens, k_up, k_lo, (.80,.83), ('0.289','(0.8,0.8243)'), (.68,.77),
    ['AUC: 0.8724','95% CI: 0.804\u20130.9398','p\u2212value: < 0.0001'], (.444,.064), 705.7, 581.3, 16)
roc(586.7, 578.3, 720.7, 712.7, m_spec, m_sens, m_up, m_lo, (.92,.84), ('0.4845','(0.92,0.8378)'), (.80,.78),
    ['AUC: 0.9211','95% CI: 0.8614\u20130.9807','p\u2212value: < 0.0001'], (.456,.062), 707.7, 583.3, 15)

fig.savefig('out.png', dpi=100)
